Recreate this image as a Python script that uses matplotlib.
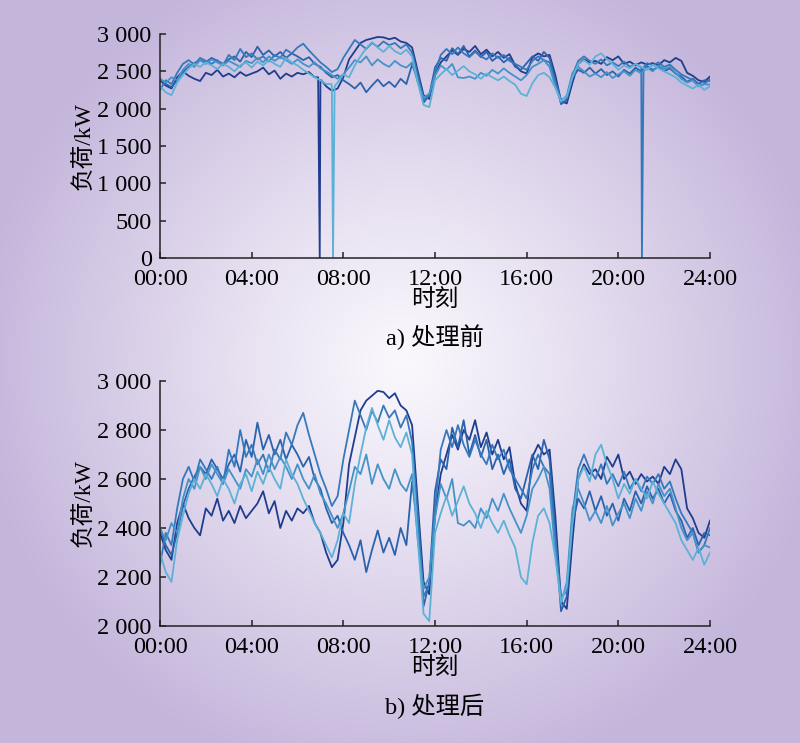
import numpy as np
import matplotlib
matplotlib.use("Agg")
import matplotlib.pyplot as plt
from matplotlib.ticker import FixedLocator, FuncFormatter

plt.rcParams['font.family'] = ['Liberation Serif', 'Noto Sans CJK SC']
plt.rcParams['font.size'] = 17

# ---- data (kW, 15-min samples from 00:00 to 24:00) ----
hours = np.arange(97) * 0.25

load_1 = [2380, 2310, 2270, 2420, 2500, 2440, 2400, 2370, 2480, 2450, 2520, 2430, 2470, 2420, 2490, 2440,
          2470, 2500, 2550, 2460, 2510, 2400, 2470, 2430, 2480, 2460, 2490, 2420, 2380, 2300, 2240, 2270,
          2420, 2660, 2770, 2880, 2920, 2940, 2960, 2955, 2930, 2950, 2900, 2880, 2820, 2500, 2180, 2130,
          2450, 2620, 2700, 2780, 2720, 2800, 2760, 2840, 2730, 2790, 2700, 2760, 2680, 2730, 2580, 2500,
          2470, 2690, 2740, 2700, 2720, 2450, 2100, 2070, 2350, 2600, 2660, 2620, 2640, 2600, 2690, 2650,
          2700, 2600, 2630, 2580, 2620, 2590, 2610, 2580, 2650, 2620, 2680, 2640, 2480, 2440, 2380, 2360,
          2430]
load_2 = [2400, 2330, 2290, 2380, 2490, 2560, 2610, 2650, 2620, 2680, 2640, 2600, 2660, 2700, 2630, 2760,
          2690, 2830, 2720, 2780, 2700, 2760, 2680, 2740, 2700, 2650, 2690, 2600, 2560, 2480, 2420, 2450,
          2380, 2330, 2270, 2350, 2220, 2310, 2390, 2300, 2360, 2290, 2400, 2330, 2590, 2400, 2080, 2180,
          2550, 2680, 2640, 2810, 2730, 2840, 2700, 2780, 2690, 2760, 2640, 2700, 2620, 2680, 2560, 2520,
          2610, 2700, 2640, 2760, 2680, 2380, 2060, 2120, 2420, 2520, 2480, 2550, 2470, 2530, 2450, 2500,
          2430, 2520, 2470, 2550, 2500, 2570, 2520, 2560, 2500, 2540, 2470, 2430, 2360, 2400, 2330, 2380,
          2370]
load_3 = [2250, 2380, 2330, 2480, 2600, 2650, 2590, 2680, 2640, 2600, 2650, 2580, 2720, 2650, 2800, 2690,
          2740, 2660, 2700, 2630, 2720, 2680, 2790, 2740, 2820, 2870, 2780, 2700, 2620, 2560, 2490, 2530,
          2680, 2800, 2920, 2860, 2800, 2880, 2830, 2900, 2850, 2880, 2810, 2860, 2750, 2450, 2120, 2170,
          2480, 2720, 2800, 2730, 2820, 2740, 2690, 2760, 2700, 2660, 2740, 2680, 2720, 2640, 2600, 2560,
          2520, 2640, 2700, 2650, 2620, 2350, 2120, 2140, 2450, 2640, 2700, 2640, 2600, 2660, 2580, 2620,
          2570, 2630, 2560, 2600, 2550, 2610, 2580, 2620, 2560, 2590, 2520, 2460, 2420, 2380, 2300, 2330,
          2400]
load_4 = [2400, 2350, 2420, 2380, 2520, 2600, 2560, 2650, 2600, 2660, 2620, 2580, 2640, 2600, 2560, 2640,
          2610, 2680, 2620, 2700, 2640, 2690, 2650, 2600, 2660, 2600, 2560, 2620, 2540, 2500, 2450, 2400,
          2460, 2550, 2650, 2620, 2700, 2580, 2660, 2600, 2560, 2640, 2580, 2550, 2620, 2350, 2150, 2200,
          2440, 2580, 2520, 2600, 2420, 2410, 2430, 2400, 2480, 2440, 2520, 2470, 2540, 2480, 2430, 2380,
          2450, 2560, 2600, 2650, 2560, 2300, 2090, 2180, 2480, 2560, 2500, 2430, 2470, 2420, 2490, 2410,
          2460, 2500, 2440, 2520, 2470, 2550, 2500, 2580, 2530, 2560, 2480, 2400, 2350, 2380, 2300, 2330,
          2320]
load_5 = [2300, 2220, 2180, 2350, 2450, 2540, 2600, 2560, 2620, 2580, 2530, 2600, 2560, 2500, 2580, 2620,
          2550, 2630, 2580, 2650, 2600, 2560, 2680, 2620, 2580, 2520, 2470, 2420, 2380, 2330, 2280, 2350,
          2460, 2420, 2580, 2700, 2810, 2890, 2820, 2760, 2840, 2770, 2730, 2790, 2700, 2350, 2050, 2020,
          2380, 2460, 2530, 2450, 2510, 2570, 2500, 2460, 2400, 2470, 2420, 2380, 2430, 2370, 2320, 2200,
          2170, 2340, 2450, 2480, 2420, 2280, 2100, 2160, 2420, 2600, 2650, 2590, 2700, 2740, 2660, 2600,
          2520, 2580, 2540, 2600, 2560, 2520, 2590, 2540, 2500, 2460, 2420, 2350, 2310, 2270, 2320, 2250,
          2300]
series = [load_1, load_2, load_3, load_4, load_5]

# outliers (drops to zero) in the raw data
spike_series = [0, 4, 2]
spike_hours = [6.97, 7.55, 21.03]
spike_before = [2420, 2330, 2560]
spike_after = [2380, 2300, 2550]
spike_value = [0, 0, 0]

xtick_hours = [0, 4, 8, 12, 16, 20, 24]
xtick_labels = ["00:00", "04:00", "08:00", "12:00", "16:00", "20:00", "24:00"]

colors = ["#1f3d8e", "#2b62ac", "#3579bb", "#4592c8", "#5db1d6"]

# ---- figure with radial background ----
W, H = 800, 743
fig = plt.figure(figsize=(W / 100, H / 100), dpi=100)

yy, xx = np.mgrid[0:H, 0:W]
r = np.sqrt((xx - 403) ** 2 + (yy - 362) ** 2)
s = np.clip(r / 430.0, 0, 1) ** 1.1
inner = np.array([250, 248, 253]) / 255
outer = np.array([196, 181, 219]) / 255
bg = inner[None, None, :] * (1 - s[..., None]) + outer[None, None, :] * s[..., None]
bg_ax = fig.add_axes([0, 0, 1, 1], zorder=-5)
bg_ax.imshow(bg, aspect='auto', extent=[0, 1, 0, 1], origin='upper')
bg_ax.axis('off')


def style_axes(ax):
    ax.set_facecolor('none')
    for side in ['top', 'right']:
        ax.spines[side].set_visible(False)
    for side in ['left', 'bottom']:
        ax.spines[side].set_linewidth(1.1)
        ax.spines[side].set_color('#222222')
    ax.tick_params(direction='in', length=4, width=1.1, color='#222222', labelsize=17.5)
    ax.tick_params(axis='y', pad=6)
    ax.tick_params(axis='x', pad=8)
    ax.set_xlim(0, 24)
    ax.xaxis.set_major_locator(FixedLocator(xtick_hours))
    ax.set_xticklabels(xtick_labels)
    ax.yaxis.set_major_formatter(FuncFormatter(lambda v, p: f"{int(v):,}".replace(",", " ")))
    ax.set_ylabel("负荷/kW", fontsize=17, labelpad=2)
    ax.set_xlabel("时刻", fontsize=17, labelpad=0)


# top: raw data with zero drops
ax1 = fig.add_axes([160 / W, 1 - 258 / H, 550 / W, 224 / H])
style_axes(ax1)
for i, vals in enumerate(series):
    t = list(hours)
    v = list(vals)
    for k, si in enumerate(spike_series):
        if si != i:
            continue
        ts = spike_hours[k]
        t += [ts - 0.07, ts, ts + 0.07]
        v += [spike_before[k], spike_value[k], spike_after[k]]
    order = np.argsort(t)
    ax1.plot(np.array(t)[order], np.array(v)[order], color=colors[i], lw=1.3)
ax1.set_ylim(0, 3000)
ax1.yaxis.set_major_locator(FixedLocator([0, 500, 1000, 1500, 2000, 2500, 3000]))
ax1.text(0.5, -0.353, "a) 处理前", transform=ax1.transAxes, ha='center', va='center', fontsize=17.5)

# bottom: processed data
ax2 = fig.add_axes([160 / W, 1 - 626 / H, 550 / W, 245 / H])
style_axes(ax2)
for i, vals in enumerate(series):
    ax2.plot(hours, vals, color=colors[i], lw=1.3)
ax2.set_ylim(2000, 3000)
ax2.yaxis.set_major_locator(FixedLocator([2000, 2200, 2400, 2600, 2800, 3000]))
ax2.text(0.5, -0.33, "b) 处理后", transform=ax2.transAxes, ha='center', va='center', fontsize=17.5)

fig.savefig("out.png", dpi=100)
